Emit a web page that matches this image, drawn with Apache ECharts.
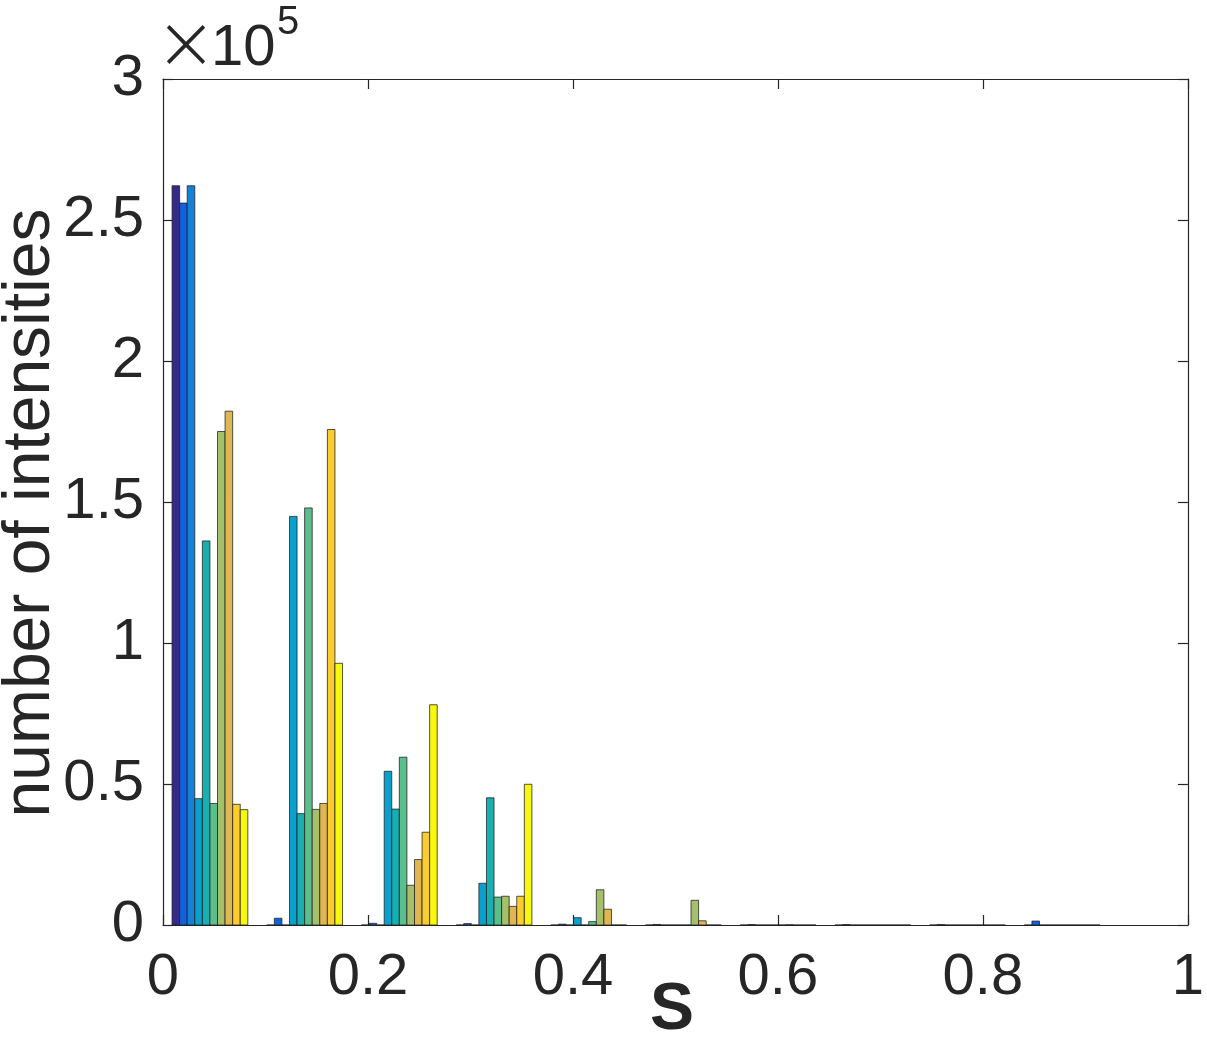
<!DOCTYPE html>
<html>
<head>
<meta charset="utf-8">
<script src="https://cdn.jsdelivr.net/npm/echarts@6/dist/echarts.min.js"></script>
<style>html,body{margin:0;padding:0;background:#fff}#c{width:1207px;height:1037px}</style>
</head>
<body>
<div id="c"></div>
<script>
// Bin centres (S values) of the grouped histogram
const binCenters = [0.0458, 0.1382, 0.2306, 0.3230, 0.4154, 0.5078, 0.6002, 0.6926, 0.7850, 0.8774];
const binSpacing = 0.0924;
// Tick labels
const xTicks = [0, 0.2, 0.4, 0.6, 0.8, 1];
const yTickLabels = ['0', '0.5', '1', '1.5', '2', '2.5', '3'];
// Series values (number of intensities per bin)
const s1  = [262144, 0, 0, 0, 0, 0, 0, 0, 0, 0];
const s2  = [256000, 2400, 600, 500, 300, 200, 150, 150, 150, 1400];
const s3  = [262144, 0, 0, 0, 0, 0, 0, 0, 0, 0];
const s4  = [44800, 144900, 54500, 14800, 2600, 0, 0, 0, 0, 0];
const s5  = [136200, 39500, 41100, 45100, 0, 0, 0, 0, 0, 0];
const s6  = [43100, 147900, 59500, 9900, 1200, 0, 0, 0, 0, 0];
const s7  = [175000, 41000, 14100, 10200, 12500, 8750, 100, 0, 0, 0];
const s8  = [182200, 43100, 23200, 6600, 5600, 1500, 0, 0, 0, 0];
const s9  = [42800, 175700, 32900, 10200, 0, 0, 0, 0, 0, 0];
const s10 = [40900, 92800, 78100, 49900, 0, 0, 0, 0, 0, 0];
const seriesValues = [s1, s2, s3, s4, s5, s6, s7, s8, s9, s10];
const colors = ['#352A87', '#1360DC', '#1581D6', '#0AA0CD', '#17AFB0', '#5BBE8C', '#A6BF6A', '#E0B652', '#FBCC2E', '#F8F80F'];

const nSeries = seriesValues.length;
const barW = 0.8 * binSpacing / nSeries;
const FONT = '"Liberation Sans", Arial, Helvetica, sans-serif';
const TXT = '#262626';

const series = seriesValues.map((vals, i) => ({
  type: 'custom',
  xAxisIndex: 0, yAxisIndex: 0,
  data: vals.map((v, k) => [binCenters[k], v]),
  encode: { x: 0, y: 1 },
  renderItem: function (params, api) {
    const xc = api.value(0) + (i - (nSeries - 1) / 2) * barW;
    const p0 = api.coord([xc - barW / 2, api.value(1)]);
    const p1 = api.coord([xc + barW / 2, 0]);
    return {
      type: 'rect',
      shape: { x: p0[0], y: p0[1], width: p1[0] - p0[0], height: p1[1] - p0[1] },
      style: { fill: colors[i], stroke: 'rgba(30,30,30,0.75)', lineWidth: 1 }
    };
  },
  z: 2
}));

const axisLine = { show: true, onZero: false, lineStyle: { color: TXT, width: 1.2 } };
const tick = { show: true, inside: true, length: 10, lineStyle: { color: TXT, width: 1.2 } };

const chart = echarts.init(document.getElementById('c'));
chart.setOption({
  animation: false,
  backgroundColor: '#fff',
  grid: { left: 163, top: 79, width: 1027, height: 846, containLabel: false },
  xAxis: [
    { type: 'value', min: 0, max: 1, interval: 0.2, position: 'bottom',
      axisLine: axisLine, axisTick: tick, splitLine: { show: false },
      axisLabel: { show: true, margin: 24, fontSize: 58, color: TXT, fontFamily: FONT,
        formatter: v => { const t = xTicks.find(x => Math.abs(x - v) < 1e-9); return t === undefined ? '' : String(t); } } },
    { type: 'value', min: 0, max: 1, interval: 0.2, position: 'top',
      axisLine: axisLine, axisTick: tick, splitLine: { show: false }, axisLabel: { show: false } }
  ],
  yAxis: [
    { type: 'value', min: 0, max: 300000, interval: 50000, position: 'left',
      axisLine: axisLine, axisTick: tick, splitLine: { show: false },
      axisLabel: { show: true, margin: 19, fontSize: 58, color: TXT, fontFamily: FONT,
        formatter: v => yTickLabels[Math.round(v / 50000)] } },
    { type: 'value', min: 0, max: 300000, interval: 50000, position: 'right',
      axisLine: axisLine, axisTick: tick, splitLine: { show: false }, axisLabel: { show: false } }
  ],
  series: series,
  graphic: [
    { type: 'text', x: 186, y: 49, style: { text: '\u00d7', fontSize: 74, fontFamily: '"DejaVu Sans", sans-serif', fontWeight: 'lighter', fill: TXT, align: 'center', verticalAlign: 'middle' } },
    { type: 'text', left: 211, top: 20, style: { text: '10', fontSize: 58, fontFamily: FONT, fill: TXT } },
    { type: 'text', left: 277, top: 3, style: { text: '5', fontSize: 40, fontFamily: FONT, fill: TXT } },
    { type: 'text', x: 31, y: 513, rotation: Math.PI / 2,
      style: { text: 'number of intensities', fontSize: 66, fontFamily: FONT, fill: TXT, align: 'center', verticalAlign: 'middle' } },
    { type: 'text', x: 672, y: 1011,
      style: { text: 'S', fontSize: 66, fontWeight: 'bold', fontFamily: FONT, fill: TXT, align: 'center', verticalAlign: 'middle' } }
  ]
});
</script>
</body>
</html>
